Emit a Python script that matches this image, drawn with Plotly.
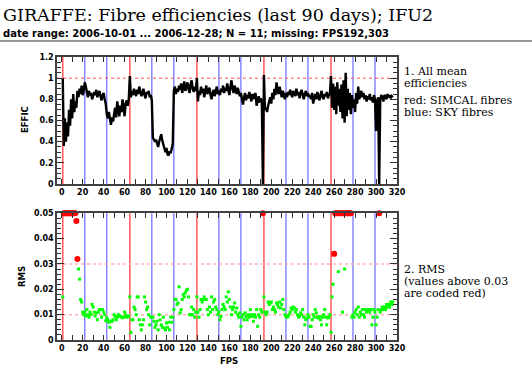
import plotly.graph_objects as go

# ---------------- data ----------------
fps = list(range(1, 317))

eff = (
    [1.00, 0.36, 0.62, 0.40, 0.58, 0.45, 0.70, 0.55, 0.80, 0.62, 0.85, 0.68, 0.78, 0.72, 0.88, 0.82, 0.90, 0.85, 0.93, 0.84, 0.88]  # 1-21
    + [0.96]  # 22
    + [0.92, 0.85, 0.82, 0.88, 0.84, 0.86, 0.80, 0.83, 0.87, 0.84, 0.89, 0.82, 0.85, 0.88, 0.83, 0.79, 0.84, 0.86, 0.80, 0.76]  # 23-42
    + [0.66, 0.62, 0.68, 0.60, 0.56, 0.63, 0.59, 0.66, 0.72, 0.63, 0.78, 0.70, 0.64, 0.74, 0.68, 0.80, 0.72, 0.64, 0.76, 0.79, 0.74, 0.80]  # 43-64
    + [1.02]  # 65
    + [0.82, 0.88, 0.84, 0.90, 0.86, 0.83, 0.89, 0.85, 0.92, 0.87, 0.83, 0.86, 0.90, 0.84, 0.81, 0.87, 0.85, 0.88, 0.82, 0.84, 0.79]  # 66-86
    + [0.44, 0.42, 0.40, 0.42, 0.38, 0.35, 0.40, 0.44, 0.47, 0.41, 0.37, 0.33, 0.30, 0.34, 0.28, 0.27, 0.31, 0.29, 0.35, 0.38]  # 87-106
    + [0.88, 0.92, 0.85, 0.90, 0.87, 0.93, 0.89, 0.95, 0.86, 0.91, 0.97, 0.88, 0.93, 0.96, 0.90, 0.86, 0.94, 0.98, 0.90, 0.87, 0.92, 0.88]  # 107-128
    + [1.00]  # 129
    + [0.78, 0.88, 0.84, 0.92, 0.86, 0.90, 0.82, 0.87, 0.93, 0.85, 0.88, 0.91, 0.84, 0.80, 0.86, 0.89, 0.83, 0.87, 0.92, 0.85, 0.88]  # 130-150
    + [0.84, 0.90, 0.87, 0.93, 0.86, 0.91, 0.88, 0.95, 0.89, 0.84, 0.92, 0.98, 0.90, 0.86, 0.93, 0.88, 0.85, 0.91, 0.87, 0.83, 0.86]  # 151-171
    + [0.80, 0.75, 0.82, 0.86, 0.79, 0.84, 0.81, 0.87, 0.83, 0.78, 0.85, 0.80, 0.84, 0.86, 0.74, 0.79, 0.83, 0.77, 0.81, 0.78]  # 172-191
    + [0.00]  # 192 (missing)
    + [1.03]  # 193
    + [0.70, 0.72, 0.68, 0.74, 0.78, 0.82, 0.76, 0.86, 0.80, 0.90, 0.84, 0.96, 0.88, 0.85, 0.92, 0.86, 0.82, 0.88, 0.84, 0.80, 0.86]  # 194-214
    + [0.82, 0.87, 0.84, 0.89, 0.85, 0.82, 0.88, 0.86, 0.83, 0.90, 0.84, 0.87, 0.81, 0.86, 0.89, 0.84, 0.80, 0.85, 0.88, 0.83, 0.86, 0.82]  # 215-236
    + [0.84, 0.80, 0.86, 0.76, 0.82, 0.85, 0.80, 0.87, 0.83, 0.79, 0.84, 0.88, 0.82, 0.80, 0.85, 0.83, 0.87, 0.81, 0.84, 0.86]  # 237-256
    + [1.02]  # 257
    + [0.72, 0.95, 0.70, 0.92, 0.66, 0.96, 0.74, 0.90, 0.68, 0.94, 0.62, 0.98, 0.58, 1.05, 0.64, 0.90, 0.70, 0.86, 0.66, 0.84, 0.72, 0.80, 0.68, 0.86, 0.76, 0.92, 0.80, 0.84]  # 258-285
    + [0.88, 0.82, 0.86, 0.80, 0.84, 0.78, 0.83, 0.80, 0.85, 0.79, 0.82, 0.77, 0.84, 0.80]  # 286-299
    + [0.50, 0.78, 0.82]  # 300-302
    + [0.00]  # 303 (missing)
    + [0.80, 0.84, 0.82, 0.78, 0.84, 0.83, 0.80, 0.85, 0.82, 0.84, 0.81, 0.83, 0.82]  # 304-316
)

rms = (
    [0.017]  # 1
    + [0.05] * 12  # 2-13 (clipped)
    + [0.047, 0.032, 0.028, 0.024, 0.016, 0.015, 0.011]  # 14-20
    + [0.010, 0.011, 0.0095, 0.012, 0.010, 0.009, 0.011, 0.010, 0.014, 0.013, 0.011, 0.0095, 0.0107, 0.008, 0.011,
       0.012, 0.012, 0.009, 0.012, 0.011, 0.010, 0.0076, 0.0087, 0.008, 0.007, 0.005, 0.0074, 0.0074, 0.008, 0.010,
       0.0093, 0.008, 0.009, 0.010, 0.0096, 0.0093, 0.009, 0.0088, 0.009, 0.011, 0.0099, 0.009, 0.0092, 0.0095]  # 21-64
    + [0.017]  # 65
    + [0.003, 0.008, 0.008, 0.013, 0.012, 0.010, 0.017, 0.017, 0.008, 0.006, 0.004, 0.006, 0.008, 0.017, 0.015,
       0.012, 0.013, 0.010, 0.006, 0.009, 0.009]  # 66-86
    + [0.009, 0.0074, 0.005, 0.006, 0.0074, 0.004, 0.010, 0.008, 0.006, 0.005, 0.009, 0.0047, 0.004, 0.0067, 0.005,
       0.007, 0.004, 0.009, 0.007, 0.009]  # 87-106
    + [0.012, 0.016, 0.016, 0.014, 0.0146, 0.021, 0.0107, 0.012, 0.016, 0.018, 0.017, 0.0186, 0.0196, 0.020, 0.017,
       0.010, 0.010, 0.013, 0.010, 0.012, 0.009, 0.011]  # 107-128
    + [0.017]  # 129
    + [0.011, 0.009, 0.012, 0.016, 0.015, 0.016, 0.017, 0.016, 0.016, 0.012, 0.010, 0.013, 0.011, 0.017, 0.012,
       0.015, 0.016, 0.013, 0.012, 0.010, 0.011, 0.008, 0.0093, 0.012, 0.014, 0.013, 0.012, 0.017, 0.015, 0.019,
       0.016, 0.013, 0.010, 0.012, 0.013, 0.0146, 0.011, 0.0126, 0.010, 0.009, 0.0107, 0.0054, 0.009, 0.010, 0.008,
       0.0107, 0.0093, 0.008, 0.010, 0.009, 0.012, 0.010, 0.0093, 0.0074, 0.010, 0.009, 0.012, 0.0054, 0.010, 0.009,
       0.012, 0.011]  # 130-191
    + [0.05]  # 192 (missing)
    + [0.017]  # 193
    + [0.011, 0.010, 0.011, 0.015, 0.014, 0.0146, 0.015, 0.012, 0.013, 0.012, 0.011, 0.0146, 0.014, 0.013, 0.015,
       0.0126, 0.014, 0.016, 0.012, 0.010, 0.0093, 0.009, 0.0093, 0.010, 0.011, 0.0126, 0.012, 0.013, 0.0126, 0.011,
       0.012, 0.010, 0.009, 0.0093, 0.0107, 0.010, 0.012, 0.009, 0.006, 0.008, 0.0087, 0.010, 0.009, 0.0054, 0.0054,
       0.008, 0.010, 0.009, 0.012, 0.0107, 0.009, 0.0087, 0.0093, 0.008, 0.006, 0.009, 0.010, 0.012, 0.009, 0.006,
       0.0087, 0.009, 0.010]  # 194-256
    + [0.003, 0.017, 0.022, 0.034, 0.05, 0.05, 0.05, 0.027, 0.05, 0.05, 0.05, 0.011, 0.05, 0.028, 0.05, 0.05, 0.05,
       0.05, 0.05, 0.05]  # 257-276
    + [0.009, 0.010, 0.009, 0.011, 0.012, 0.010, 0.013, 0.009, 0.011, 0.010, 0.012, 0.010, 0.009, 0.012, 0.011,
       0.012, 0.012, 0.011, 0.012, 0.006, 0.009, 0.012, 0.011, 0.006, 0.009, 0.012]  # 277-302
    + [0.05]  # 303 (missing)
    + [0.011, 0.012, 0.013, 0.012, 0.013, 0.012, 0.014, 0.013, 0.014, 0.013, 0.015, 0.014, 0.015]  # 304-316
)

simcal_fps = [1, 65, 129, 193, 257]
sky_fps = [22, 43, 86, 107, 150, 171, 214, 235, 278, 299]
eff_ref = [1.0]
rms_ref = [0.03, 0.01]
rms_limit = 0.03
rms_max = 0.05
x_tick_vals = list(range(0, 321, 20))

assert len(eff) == len(fps) and len(rms) == len(fps)

# ---------------- layout helpers ----------------
W, H = 532, 372
L, R, T, B = 57, 397, 57, 340


def ax(px):
    return (px - L) / (R - L)


def ay(py):
    return (B - py) / (B - T)


top_dom = [ay(184), 1.0]
bot_dom = [0.0, ay(213.3)]

fig = go.Figure()

fig.add_trace(go.Scatter(x=fps, y=eff, mode="lines", line=dict(color="black", width=2.4),
                         xaxis="x", yaxis="y", showlegend=False, hoverinfo="skip"))

g_x = [f for f, v in zip(fps, rms) if v <= rms_limit]
g_y = [v for v in rms if v <= rms_limit]
r_x = [f for f, v in zip(fps, rms) if v > rms_limit]
r_y = [min(v, rms_max) for v in rms if v > rms_limit]

fig.add_trace(go.Scatter(x=g_x, y=g_y, mode="markers",
                         marker=dict(symbol="square", size=3, color="#00ff00", line=dict(width=0)),
                         xaxis="x2", yaxis="y2", showlegend=False, cliponaxis=False, hoverinfo="skip"))
fig.add_trace(go.Scatter(x=r_x, y=r_y, mode="markers",
                         marker=dict(symbol="circle", size=6, color="#ff0000", line=dict(width=0)),
                         xaxis="x2", yaxis="y2", showlegend=False, cliponaxis=False, hoverinfo="skip"))

shapes = []
for xr, yr in (("x", "y"), ("x2", "y2")):
    for v in simcal_fps:
        shapes.append(dict(type="line", xref=xr, yref=yr + " domain", x0=v, x1=v, y0=0, y1=1,
                           line=dict(color="#ff6060", width=1.6), layer="below"))
    for v in sky_fps:
        shapes.append(dict(type="line", xref=xr, yref=yr + " domain", x0=v, x1=v, y0=0, y1=1,
                           line=dict(color="#6a6aff", width=1.2), layer="below"))
for v in eff_ref:
    shapes.append(dict(type="line", xref="x domain", yref="y", x0=0, x1=1, y0=v, y1=v,
                       line=dict(color="#ff5050", width=1, dash="dot"), layer="below"))
for v in rms_ref:
    shapes.append(dict(type="line", xref="x2 domain", yref="y2", x0=0, x1=1, y0=v, y1=v,
                       line=dict(color="#ffb0b0", width=1.5, dash="dot"), layer="below"))
shapes.append(dict(type="line", xref="paper", yref="paper", x0=ax(0), x1=ax(W), y0=ay(41), y1=ay(41),
                   line=dict(color="#999999", width=2)))

tickfont = dict(family="DejaVu Sans", size=8, color="black", weight="bold")
axis_common = dict(showline=True, mirror="ticks", linecolor="#404040", linewidth=1.5,
                   ticks="inside", tickcolor="#303030", showgrid=False, zeroline=False,
                   tickfont=tickfont)

xcommon = dict(axis_common, range=[-4.5, 320], tickvals=x_tick_vals, ticklen=5, tickwidth=1,
               minor=dict(dtick=10, tick0=0, ticks="inside", ticklen=5, tickcolor="#303030"))

fig.update_layout(
    width=W, height=H,
    margin=dict(l=L, r=W - R, t=T, b=H - B, pad=0),
    paper_bgcolor="white", plot_bgcolor="white",
    xaxis=dict(xcommon, anchor="y", domain=[0, 1]),
    xaxis2=dict(xcommon, anchor="y2", domain=[0, 1]),
    yaxis=dict(axis_common, anchor="x", domain=top_dom, range=[0, 1.2], dtick=0.2, ticklen=7,
               minor=dict(dtick=0.05, ticks="inside", ticklen=4, tickcolor="#303030")),
    yaxis2=dict(axis_common, anchor="x2", domain=bot_dom, range=[0, 0.05], dtick=0.01, ticklen=7,
                minor=dict(dtick=0.002, ticks="inside", ticklen=4, tickcolor="#303030")),
    shapes=shapes,
)

serif = "DejaVu Serif"
ann = []
ann.append(dict(text="GIRAFFE: Fibre efficiencies (last 90 days); IFU2", x=ax(1), y=ay(15),
                font=dict(family=serif, size=17.5, color="black")))
ann.append(dict(text="date range: 2006-10-01 ... 2006-12-28; N = 11; missing: FPS192,303", x=ax(1), y=ay(33),
                font=dict(family="DejaVu Sans", size=10, color="black", weight="bold")))
right_lines = [("1. All mean", 71), ("efficiencies", 83.5), ("red: SIMCAL fibres", 100), ("blue: SKY fibres", 112),
               ("2. RMS", 269.5), ("(values above 0.03", 281.5), ("are coded red)", 293.5)]
for t, py in right_lines:
    ann.append(dict(text=t, x=ax(402), y=ay(py), height=11, valign="middle",
                    font=dict(family=serif, size=11, color="black")))
for a in ann:
    a.update(xref="paper", yref="paper", xanchor="left", yanchor="middle", showarrow=False)

lab_font = dict(family="DejaVu Sans", size=8.5, color="black", weight="bold")
ann.append(dict(text="EFFIC", x=ax(25), y=ay(120), textangle=-90, xref="paper", yref="paper",
                showarrow=False, xanchor="center", yanchor="middle", font=lab_font))
ann.append(dict(text="RMS", x=ax(22), y=ay(277), textangle=-90, xref="paper", yref="paper",
                showarrow=False, xanchor="center", yanchor="middle", font=lab_font))
ann.append(dict(text="FPS", x=ax(229), y=ay(361), xref="paper", yref="paper",
                showarrow=False, xanchor="center", yanchor="middle", font=lab_font))
fig.update_layout(annotations=ann)

fig.write_html("out.html", config={"displayModeBar": False},
               post_script="document.body.style.margin='0px';document.body.style.overflow='hidden';")
